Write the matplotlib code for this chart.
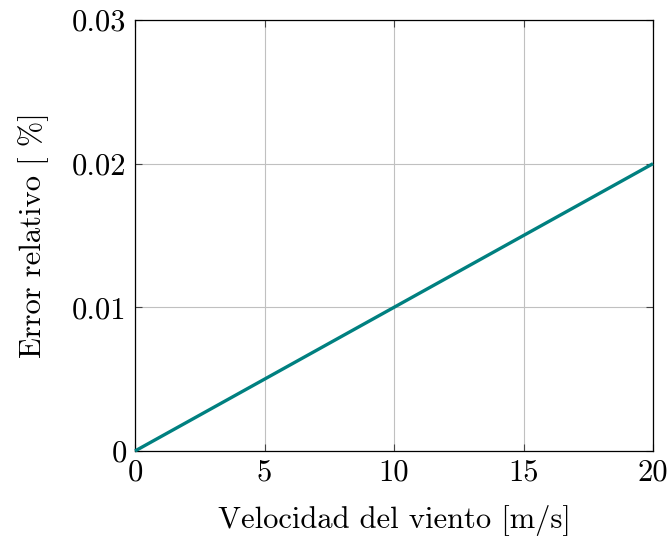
import matplotlib
matplotlib.use("Agg")
import matplotlib.pyplot as plt

velocidad = [0, 5, 10, 15, 20]
error_rel = [0.0, 0.005, 0.010, 0.015, 0.020]
xticks = [0, 5, 10, 15, 20]
yticks = [0, 0.01, 0.02, 0.03]
yticklabels = ["0", "0.01", "0.02", "0.03"]

plt.rcParams['font.family'] = ['cmr10', 'DejaVu Serif']
plt.rcParams['mathtext.fontset'] = 'cm'
plt.rcParams['axes.unicode_minus'] = False

fig = plt.figure(figsize=(6.7, 5.38), dpi=100)
ax = fig.add_axes([135/670, 1-451/538, (653-135)/670, (451-20)/538])

ax.plot(velocidad, error_rel, color='#008080', lw=2.4, solid_capstyle='butt', zorder=3, clip_on=False)

ax.set_xlim(0, 20)
ax.set_ylim(0, 0.03)
ax.set_xticks(xticks)
ax.set_xticklabels([str(t) for t in xticks])
ax.set_yticks(yticks)
ax.set_yticklabels(yticklabels)
ax.grid(True, color='#c0c0c0', lw=0.8)
ax.set_axisbelow(True)
ax.tick_params(direction='in', length=5, width=0.8, color='#444444', labelsize=22,
               top=True, right=True, pad=6)
for s in ax.spines.values():
    s.set_linewidth(0.9)
ax.set_xlabel("Velocidad del viento [m/s]", fontsize=22, labelpad=13)
ax.set_ylabel("Error relativo [ %]", fontsize=22, labelpad=17)

fig.savefig("out.png", dpi=100)
